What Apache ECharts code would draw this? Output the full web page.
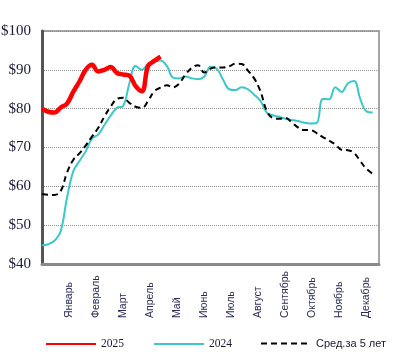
<!DOCTYPE html>
<html>
<head>
<meta charset="utf-8">
<script src="https://cdn.jsdelivr.net/npm/echarts@6/dist/echarts.min.js"></script>
<style>html,body{margin:0;padding:0;background:#fff}#c{width:417px;height:363px}</style>
</head>
<body>
<div id="c"></div>
<script>
// Month labels (placed at the end of each month, in weeks)
const months = ['Январь','Февраль','Март','Апрель','Май','Июнь','Июль','Август','Сентябрь','Октябрь','Ноябрь','Декабрь'];
const yTicks = [40, 50, 60, 70, 80, 90, 100];
const seriesNames = ['2025', '2024', 'Сред.за 5 лет'];

// Weekly values (week index 0..)
const y2025 = [80.0, 79.2, 79.0, 80.3, 81.3, 84.3, 87.0, 90.0, 91.3, 89.6, 90.0, 90.7, 89.2, 88.8, 88.5, 85.8, 84.5, 91.0, 92.3, 93.4];
const y2024 = [44.8, 45.1, 46.0, 48.5, 57.0, 63.8, 66.5, 69.0, 72.3, 73.3, 75.8, 78.2, 80.2, 80.7, 86.5, 91.0, 90.0, 91.5, 92.0, 92.4,
               91.0, 88.0, 87.8, 88.3, 87.8, 87.6, 88.2, 90.8, 90.3, 87.5, 85.0, 84.8, 85.5, 85.0, 83.6, 82.0, 79.0, 78.3, 77.9, 77.4,
               77.1, 76.8, 76.4, 76.2, 76.3, 82.5, 82.4, 85.5, 84.3, 86.5, 87.1, 82.5, 79.3, 79.0];
const yAvg5 = [58.0, 57.8, 57.8, 58.8, 63.5, 66.8, 68.5, 70.5, 72.8, 75.0, 78.0, 80.5, 82.5, 82.8, 81.5, 80.5, 80.2, 82.0, 84.5, 85.4,
               86.0, 85.5, 86.5, 88.8, 90.5, 91.2, 89.3, 90.3, 90.6, 90.6, 90.9, 91.6, 91.5, 89.8, 87.8, 84.5, 79.5, 77.6, 77.4, 77.6,
               76.5, 75.2, 74.5, 74.5, 73.7, 72.7, 71.8, 70.8, 69.4, 69.3, 68.6, 66.5, 64.5, 63.2];

const WEEKS_PER_MONTH = 52 / 12;
const toPairs = arr => arr.map((v, i) => [i, v]);

const legendBase = {
  top: 333, itemWidth: 50, itemHeight: 14,
  itemStyle: {opacity: 0},
  textStyle: {fontFamily: 'Liberation Serif', fontSize: 11.5, color: '#1a1a2e'}
};

const chart = echarts.init(document.getElementById('c'), null, {renderer: 'canvas'});
chart.setOption({
  animation: false,
  backgroundColor: '#fff',
  grid: {left: 42, right: 38, top: 31, bottom: 99, containLabel: false, outerBoundsMode: 'none',
         show: true, borderColor: '#a6a6a6', borderWidth: 2},
  legend: [
    Object.assign({}, legendBase, {data: [seriesNames[0]], left: 40}),
    Object.assign({}, legendBase, {data: [seriesNames[1]], left: 148}),
    Object.assign({}, legendBase, {data: [seriesNames[2]], left: 255,
      textStyle: {fontFamily: 'Liberation Sans', fontSize: 11, color: '#1a1a2e'}})
  ],
  xAxis: {
    type: 'value', min: 0, max: 54, interval: WEEKS_PER_MONTH,
    axisLine: {show: true, onZero: false, lineStyle: {color: '#8a8a8a', width: 3}},
    axisTick: {show: false},
    splitLine: {show: false},
    axisLabel: {
      rotate: 90, align: 'left', verticalAlign: 'middle', margin: 54,
      fontFamily: 'Liberation Sans', fontSize: 10.5, color: '#2b2b55',
      formatter: v => {
        const k = Math.round(v / WEEKS_PER_MONTH);
        if (k >= 1 && k <= 12 && Math.abs(v - k * WEEKS_PER_MONTH) < 0.01) return months[k - 1];
        return '';
      }
    }
  },
  yAxis: {
    type: 'value', min: yTicks[0], max: yTicks[yTicks.length - 1], interval: 10,
    axisLine: {show: true, lineStyle: {color: '#555', width: 3}},
    axisTick: {show: false},
    splitLine: {show: true, lineStyle: {color: '#8f8f8f', type: 'dotted', width: 1}},
    axisLabel: {formatter: v => '$' + v, fontFamily: 'Liberation Serif', fontSize: 15, color: '#1a1a33', margin: 11}
  },
  series: [
    {name: seriesNames[0], type: 'line', data: toPairs(y2025), smooth: 0.4, symbol: 'none', z: 5,
     lineStyle: {color: '#ff0000', width: 4.5}, itemStyle: {color: '#ff0000'}},
    {name: seriesNames[1], type: 'line', data: toPairs(y2024), smooth: 0.4, symbol: 'none', z: 3,
     lineStyle: {color: '#3cc8c8', width: 2}, itemStyle: {color: '#3cc8c8'}},
    {name: seriesNames[2], type: 'line', data: toPairs(yAvg5), smooth: 0.4, symbol: 'none', z: 4,
     lineStyle: {color: '#000', width: 2, type: [6, 4]}, itemStyle: {color: '#000'}}
  ]
});
</script>
</body>
</html>
